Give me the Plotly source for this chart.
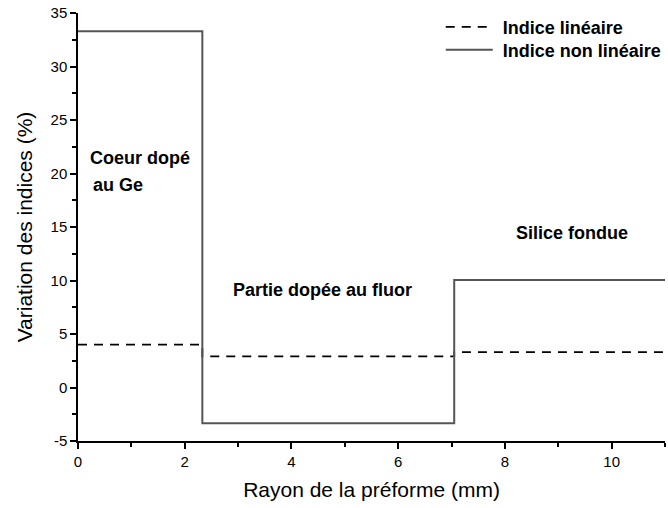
import plotly.graph_objects as go

# Data
x_lin = [0, 2.33, 2.33, 7.05, 7.05, 11]
y_lin = [4.0, 4.0, 2.9, 2.9, 3.3, 3.3]
x_nl = [0, 2.33, 2.33, 7.05, 7.05, 11]
y_nl = [33.3, 33.3, -3.35, -3.35, 10.05, 10.05]
series_names = ["Indice linéaire", "Indice non linéaire"]
x_ticks = [0, 2, 4, 6, 8, 10]
x_ticklabels = ["0", "2", "4", "6", "8", "10"]
y_ticks = [-5, 0, 5, 10, 15, 20, 25, 30, 35]
y_ticklabels = ["-5", "0", "5", "10", "15", "20", "25", "30", "35"]

FONT = "Liberation Sans"

fig = go.Figure()
fig.add_trace(go.Scatter(x=x_lin, y=y_lin, mode="lines", name="\u00a0" + series_names[0],
                         line=dict(color="black", width=1.8, dash="9px,7px"),
                         legend="legend", showlegend=True))
fig.add_trace(go.Scatter(x=x_nl, y=y_nl, mode="lines", name="\u00a0" + series_names[1],
                         line=dict(color="#555555", width=2),
                         legend="legend2", showlegend=True))

bold = dict(family=FONT, size=18, color="black")
ann = [
    dict(x=1.16, y=21.45, text="<b>Coeur dopé</b>"),
    dict(x=0.75, y=18.9, text="<b>au Ge</b>"),
    dict(x=4.58, y=9.1, text="<b>Partie dopée au fluor</b>"),
    dict(x=9.25, y=14.4, text="<b>Silice fondue</b>"),
]
for a in ann:
    fig.add_annotation(x=a["x"], y=a["y"], text=a["text"], showarrow=False,
                       xref="x", yref="y", font=bold)

axis_common = dict(showgrid=False, zeroline=False, showline=True, linecolor="black",
                   linewidth=1.5, ticks="outside", ticklen=6, tickwidth=1.5, automargin=False,
                   tickcolor="black", tickfont=dict(family=FONT, size=15, color="black"),
                   title_font=dict(family=FONT, size=21, color="black"))
fig.update_xaxes(range=[0, 11], tickmode="array", tickvals=x_ticks, ticktext=x_ticklabels,
                 minor=dict(dtick=1, tick0=0, ticklen=4, tickwidth=1.5, tickcolor="black", ticks="outside"),
                 title_text="Rayon de la préforme (mm)", title_standoff=14, **axis_common)
fig.update_yaxes(range=[-5, 35], tickmode="array", tickvals=y_ticks, ticktext=y_ticklabels,
                 minor=dict(dtick=2.5, tick0=0, ticklen=4, tickwidth=1.5, tickcolor="black", ticks="outside"),
                 title_text="Variation des indices (%)", title_standoff=12, **axis_common)

leg_common = dict(xanchor="left", yanchor="middle", visible=True,
                  font=dict(family=FONT, size=18, color="black", weight="bold"),
                  bgcolor="rgba(0,0,0,0)", itemwidth=47)
fig.update_layout(
    width=668, height=508,
    showlegend=True,
    margin=dict(l=78, r=1, t=13, b=67),
    plot_bgcolor="white", paper_bgcolor="white",
    font=dict(family=FONT, color="black"),
    legend=dict(x=0.618, y=0.967, **leg_common),
    legend2=dict(x=0.618, y=0.9136, **leg_common),
)
fig.write_html("out.html", config={"displayModeBar": False},
               post_script="document.body.style.margin='0';")
